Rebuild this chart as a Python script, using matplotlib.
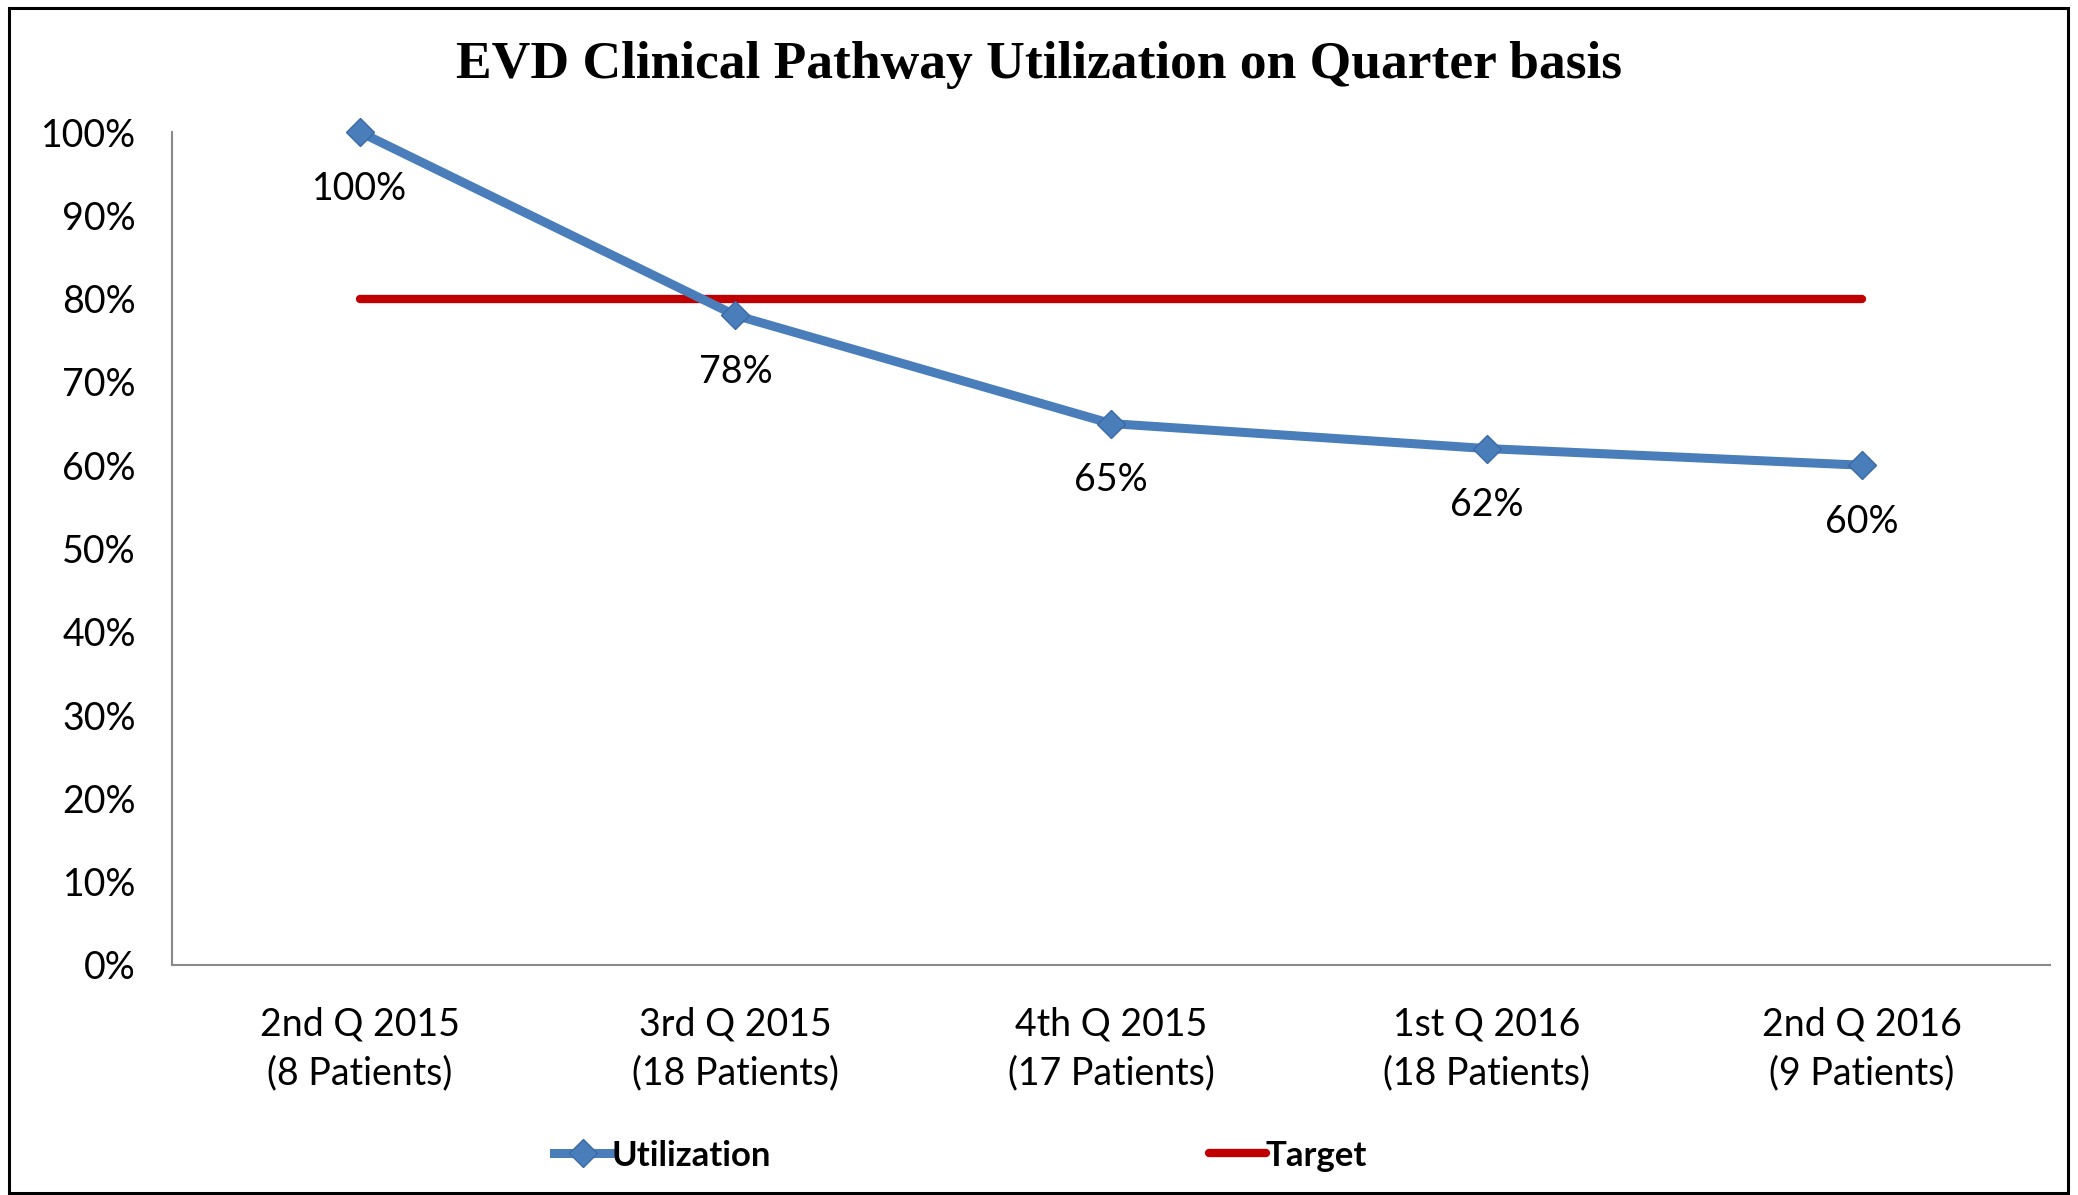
import matplotlib
matplotlib.use("Agg")
import matplotlib.pyplot as plt
from matplotlib.ticker import PercentFormatter
from matplotlib.patches import Rectangle

categories = ["2nd Q 2015\n(8 Patients)", "3rd Q 2015\n(18 Patients)", "4th Q 2015\n(17 Patients)",
              "1st Q 2016\n(18 Patients)", "2nd Q 2016\n(9 Patients)"]
utilization = [1.00, 0.78, 0.65, 0.62, 0.60]
target = [0.80, 0.80, 0.80, 0.80, 0.80]
labels = ["100%", "78%", "65%", "62%", "60%"]

BLUE = "#4A7EBB"
RED = "#C00000"
SANS = "Lato"

fig = plt.figure(figsize=(20.78, 11.95), dpi=100)
ax = fig.add_axes([0.0828, 0.1925, 0.9037, 0.697])

x = list(range(len(categories)))
ax.plot(x, target, color=RED, lw=6, solid_capstyle="round", label="Target", zorder=2)
ax.plot(x, utilization, color=BLUE, lw=6.5, marker="D", markersize=14, clip_on=False,
        markerfacecolor=BLUE, markeredgecolor="#3A6AA5", label="Utilization", zorder=3)

for xi, yi, lab in zip(x, utilization, labels):
    ax.annotate(lab, (xi, yi), xytext=(0, -28), textcoords="offset points",
                ha="center", va="top", fontsize=27, family=SANS)

ax.set_xlim(-0.5, len(categories) - 0.5)
ax.set_ylim(0, 1)
ax.set_yticks([i / 10 for i in range(11)])
ax.yaxis.set_major_formatter(PercentFormatter(1.0, decimals=0))
ax.set_xticks(x)
ax.set_xticklabels(categories, family=SANS, fontsize=27, linespacing=1.45)
for t in ax.get_yticklabels():
    t.set_family(SANS)
    t.set_fontsize(27)
ax.tick_params(axis="both", length=0)
ax.tick_params(axis="y", pad=26)
ax.tick_params(axis="x", pad=30)

for s in ["top", "right"]:
    ax.spines[s].set_visible(False)
for s in ["left", "bottom"]:
    ax.spines[s].set_color("#898989")
    ax.spines[s].set_linewidth(1.5)

fig.text(0.5, 0.946, "EVD Clinical Pathway Utilization on Quarter basis", ha="center", va="center",
         family="Liberation Serif", fontweight="bold", fontsize=38.5)

handles, labs = ax.get_legend_handles_labels()
order = [1, 0]
leg = fig.legend([handles[i] for i in order], [labs[i] for i in order], loc="center",
                 bbox_to_anchor=(0.4624, 0.033), ncol=2, frameon=False, columnspacing=12.6,
                 handlelength=1.65, handletextpad=0.0,
                 prop={"family": SANS, "weight": "bold", "size": 25})

fig.patches.append(Rectangle((0.0045, 0.002), 0.9905, 0.991, transform=fig.transFigure,
                             fill=False, edgecolor="black", lw=2.2))

fig.savefig("out.png", dpi=100, facecolor="white")
